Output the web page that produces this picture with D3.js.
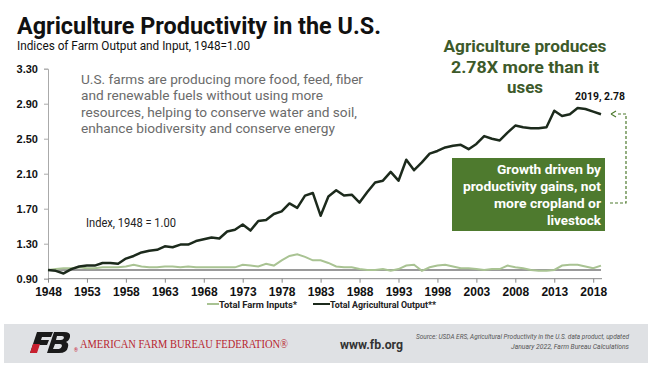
<!DOCTYPE html>
<html>
<head>
<meta charset="utf-8">
<script src="https://cdn.jsdelivr.net/npm/d3@7"></script>
<style>
  body { margin: 0; background: #fff; }
  svg { display: block; font-family: Roboto, "Liberation Sans", sans-serif; }
</style>
</head>
<body>
<div id="chart"></div>
<script>
// Indices of farm output and input, 1948 = 1.00
const years = d3.range(1948, 2020);
const outputIdx = [
  1.00, 0.99, 0.96, 1.01, 1.04, 1.05, 1.05, 1.08, 1.08, 1.07,
  1.13, 1.16, 1.20, 1.22, 1.23, 1.27, 1.26, 1.29, 1.29, 1.33,
  1.35, 1.37, 1.36, 1.44, 1.46, 1.52, 1.45, 1.56, 1.57, 1.64,
  1.67, 1.76, 1.71, 1.85, 1.88, 1.62, 1.84, 1.91, 1.85, 1.86,
  1.77, 1.89, 2.00, 2.02, 2.12, 2.02, 2.26, 2.14, 2.23, 2.33,
  2.36, 2.40, 2.42, 2.43, 2.38, 2.44, 2.53, 2.50, 2.48, 2.57,
  2.65, 2.63, 2.62, 2.62, 2.63, 2.82, 2.76, 2.78, 2.85, 2.84,
  2.81, 2.78
];
const inputIdx = [
  1.00, 1.01, 1.02, 1.02, 1.03, 1.02, 1.02, 1.03, 1.03, 1.03,
  1.04, 1.06, 1.04, 1.03, 1.03, 1.04, 1.04, 1.03, 1.04, 1.03,
  1.03, 1.03, 1.03, 1.03, 1.03, 1.06, 1.05, 1.04, 1.07, 1.05,
  1.11, 1.16, 1.18, 1.15, 1.11, 1.11, 1.08, 1.04, 1.03, 1.03,
  1.01, 1.00, 1.00, 1.01, 0.99, 1.01, 1.05, 1.06, 0.99, 1.03,
  1.05, 1.06, 1.04, 1.02, 1.02, 1.01, 1.00, 1.01, 1.01, 1.05,
  1.03, 1.02, 1.00, 0.99, 0.99, 1.00, 1.05, 1.06, 1.06, 1.04,
  1.02, 1.05
];
const yTicks = [0.90, 1.30, 1.70, 2.10, 2.50, 2.90, 3.30];
const xTicks = d3.range(1948, 2019, 5);
const seriesNames = ['Total Farm Inputs*', 'Total Agricultural Output**'];

const W = 661, H = 370;
const green = '#4e7a2e', darkLine = '#1c2a1c', lightLine = '#a9c393';

const svg = d3.select('#chart').append('svg')
  .attr('width', W).attr('height', H);

const x = d3.scaleLinear().domain([1948, 2019]).range([48, 601]);
const y = d3.scaleLinear().domain([0.9, 3.3]).range([278.7, 68.7]);

// titles
svg.append('text').attr('x', 17).attr('y', 34)
  .attr('font-size', 23).attr('font-weight', 700).attr('fill', '#111')
  .attr('textLength', 364).attr('lengthAdjust', 'spacingAndGlyphs')
  .text('Agriculture Productivity in the U.S.');
svg.append('text').attr('x', 17).attr('y', 50)
  .attr('font-size', 12).attr('fill', '#111')
  .attr('textLength', 233).attr('lengthAdjust', 'spacingAndGlyphs')
  .text('Indices of Farm Output and Input, 1948=1.00');

// axes
const yAxis = svg.append('g').attr('transform', 'translate(48,0)')
  .call(d3.axisLeft(y).tickValues(yTicks).tickFormat(d3.format('.2f')).tickSize(4).tickPadding(6));
yAxis.select('.domain').attr('stroke', '#aaa');
yAxis.selectAll('.tick line').attr('stroke', '#aaa');
yAxis.selectAll('.tick text').attr('font-size', 11).attr('font-weight', 700).attr('fill', '#111');

const xAxis = svg.append('g').attr('transform', `translate(0,${y(0.9)})`)
  .call(d3.axisBottom(x).tickValues(xTicks).tickFormat(d3.format('d')).tickSize(4).tickSizeOuter(0).tickPadding(5));
xAxis.select('.domain').attr('stroke', '#888').attr('d', `M48,0H602`);
xAxis.selectAll('.tick line').attr('stroke', '#888');
xAxis.selectAll('.tick text').attr('font-size', 12).attr('font-weight', 700).attr('fill', '#111');

// 1.00 reference line
svg.append('line')
  .attr('x1', x(1948)).attr('x2', x(2019))
  .attr('y1', y(1)).attr('y2', y(1))
  .attr('stroke', '#9a9a9a').attr('stroke-width', 2);

const line = d3.line().x((d, i) => x(years[i])).y(d => y(d));

svg.append('path').datum(inputIdx)
  .attr('d', line).attr('fill', 'none')
  .attr('stroke', lightLine).attr('stroke-width', 2);
svg.append('path').datum(outputIdx)
  .attr('d', line).attr('fill', 'none')
  .attr('stroke', darkLine).attr('stroke-width', 2.5).attr('stroke-linejoin', 'round');

// gray paragraph
const para = [
  ['U.S. farms are producing more food, feed, fiber', 282],
  ['and renewable fuels without using more', 242],
  ['resources, helping to conserve water and soil,', 276],
  ['enhance biodiversity and conserve energy', 254]
];
svg.selectAll('.para').data(para).enter().append('text')
  .attr('x', 81).attr('y', (d, i) => 84 + i * 16.4)
  .attr('font-size', 13.5).attr('fill', '#6b6b6b')
  .attr('textLength', d => d[1]).attr('lengthAdjust', 'spacingAndGlyphs')
  .text(d => d[0]);

svg.append('text').attr('x', 86).attr('y', 227)
  .attr('font-size', 12).attr('fill', '#222')
  .attr('textLength', 90).attr('lengthAdjust', 'spacingAndGlyphs')
  .text('Index, 1948 = 1.00');

// green headline
const head = [['Agriculture produces', 163], ['2.78X more than it', 148], ['uses', 36]];
svg.selectAll('.head').data(head).enter().append('text')
  .attr('x', 525).attr('y', (d, i) => 52 + i * 20.5)
  .attr('text-anchor', 'middle')
  .attr('font-size', 17).attr('font-weight', 700).attr('fill', '#3d5a2a')
  .attr('textLength', d => d[1]).attr('lengthAdjust', 'spacingAndGlyphs')
  .text(d => d[0]);

// last point label
const last = years.length - 1;
svg.append('text').attr('x', x(years[last]) + 24).attr('y', 100)
  .attr('text-anchor', 'end')
  .attr('font-size', 10).attr('font-weight', 700).attr('fill', '#111')
  .attr('textLength', 50).attr('lengthAdjust', 'spacingAndGlyphs')
  .text(`${years[last]}, ${outputIdx[last].toFixed(2)}`);

// dashed connector
svg.append('path')
  .attr('d', `M618,114H626V203H610`)
  .attr('fill', 'none').attr('stroke', green).attr('stroke-width', 1.2)
  .attr('stroke-dasharray', '3,2');
svg.append('path')
  .attr('d', `M611,114L616,111M611,114L616,117`)
  .attr('fill', 'none').attr('stroke', green).attr('stroke-width', 1.2);

// green box
svg.append('rect').attr('x', 452).attr('y', 158).attr('width', 153).attr('height', 73)
  .attr('fill', green);
const box = [['Growth driven by', 104], ['productivity gains, not', 138], ['more cropland or', 107], ['livestock', 54]];
svg.selectAll('.box').data(box).enter().append('text')
  .attr('x', 601).attr('y', (d, i) => 174 + i * 17)
  .attr('text-anchor', 'end')
  .attr('font-size', 13.5).attr('font-weight', 700).attr('fill', '#fff')
  .attr('textLength', d => d[1]).attr('lengthAdjust', 'spacingAndGlyphs')
  .text(d => d[0]);

// legend
const legend = [
  { name: seriesNames[0], color: lightLine, lx: 207, tx: 219, w: 78 },
  { name: seriesNames[1], color: darkLine, lx: 313, tx: 330, w: 106 }
];
const lg = svg.selectAll('.lg').data(legend).enter().append('g');
lg.append('line').attr('x1', d => d.lx).attr('x2', d => d.tx).attr('y1', 304).attr('y2', 304)
  .attr('stroke', d => d.color).attr('stroke-width', 2);
lg.append('text').attr('x', d => d.tx).attr('y', 307.5)
  .attr('font-size', 9.5).attr('font-weight', 700).attr('fill', '#222')
  .attr('textLength', d => d.w).attr('lengthAdjust', 'spacingAndGlyphs')
  .text(d => d.name);

// footer band
svg.append('rect').attr('x', 4).attr('y', 324).attr('width', 644).attr('height', 39)
  .attr('fill', '#dfe1e4');
const logo = svg.append('g').attr('transform', 'translate(31,332)');
logo.append('path').attr('d', 'M6,0H22L20,5H11L10,8H18L16,13H8L5,21H-1Z').attr('fill', '#1a1a1a');
logo.append('path').attr('d', 'M2,12H9L6,21H-1Z').attr('fill', '#c8202f');
logo.append('path').attr('d', 'M23,0H33Q40,0 39,5Q38,9 35,10Q38,11 37,15Q36,21 28,21H16Z').attr('fill', '#1a1a1a');
logo.append('path').attr('d', 'M26,4H31Q33,4 33,6Q32,8 30,8H25ZM24,12H29Q31,12 31,14Q30,17 28,17H22Z').attr('fill', '#dfe1e4');
svg.append('text').attr('x', 74).attr('y', 352).attr('font-size', 5).attr('fill', '#c8202f').text('®');
svg.append('text').attr('x', 80).attr('y', 348)
  .attr('font-family', '"Liberation Serif", serif').attr('font-size', 12).attr('fill', '#b8242f')
  .attr('textLength', 208).attr('lengthAdjust', 'spacingAndGlyphs')
  .text('AMERICAN FARM BUREAU FEDERATION®');
svg.append('text').attr('x', 340).attr('y', 349)
  .attr('font-size', 13).attr('font-weight', 700).attr('fill', '#333')
  .attr('textLength', 63).attr('lengthAdjust', 'spacingAndGlyphs')
  .text('www.fb.org');
const src = [
  ['Source: USDA ERS, Agricultural Productivity in the U.S. data product, updated', 213],
  ['January 2022, Farm Bureau Calculations', 118]
];
svg.selectAll('.src').data(src).enter().append('text')
  .attr('x', 629).attr('y', (d, i) => 339 + i * 10)
  .attr('text-anchor', 'end')
  .attr('font-size', 7).attr('font-style', 'italic').attr('fill', '#555')
  .attr('textLength', d => d[1]).attr('lengthAdjust', 'spacingAndGlyphs')
  .text(d => d[0]);
</script>
</body>
</html>
